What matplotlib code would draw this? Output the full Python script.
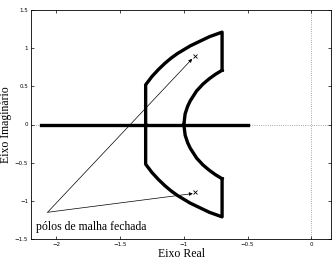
import matplotlib.pyplot as plt

# Region boundary (upper half); lower half is mirrored
outer_x = [-1.30, -1.30, -1.25, -1.20, -1.15, -1.10, -1.05, -1.00, -0.95, -0.90, -0.85, -0.80, -0.75, -0.70, -0.70]
outer_y = [0.00, 0.52, 0.63, 0.72, 0.80, 0.87, 0.93, 0.98, 1.03, 1.07, 1.11, 1.15, 1.18, 1.21, 0.71]
inner_x = [-0.70, -0.75, -0.80, -0.85, -0.90, -0.95, -0.97, -0.99, -1.00]
inner_y = [0.71, 0.66, 0.60, 0.53, 0.44, 0.31, 0.24, 0.14, 0.00]

# Real axis segment of the locus
real_x = [-2.12, -0.50]

# Closed loop poles
pole_re = [-0.91, -0.91]
pole_im = [0.90, -0.89]

label_text = "pólos de malha fechada"
label_xy = (-2.07, -1.15)
arrow_ends = [(-0.935, 0.86), (-0.93, -0.905)]

plt.rcParams['font.family'] = ['Liberation Serif', 'DejaVu Serif']

fig = plt.figure(figsize=(3.34, 2.75), dpi=100)
ax = fig.add_axes([31 / 334, 1 - 239 / 275, 300 / 334, 229 / 275])

# dotted axes lines
ax.axhline(0, color="0.55", ls=":", lw=0.6, zorder=0)
ax.axvline(0, color="0.55", ls=":", lw=0.6, zorder=0)

lw = 2.4
ax.plot(outer_x, outer_y, color="black", lw=lw)
ax.plot(outer_x, [-y for y in outer_y], color="black", lw=lw)
ax.plot(inner_x, inner_y, color="black", lw=lw)
ax.plot(inner_x, [-y for y in inner_y], color="black", lw=lw)
ax.plot(real_x, [0, 0], color="black", lw=lw)

ax.plot(pole_re, pole_im, "x", color="black", ms=2.5, mew=0.6)

for end in arrow_ends:
    ax.annotate("", xy=end, xytext=label_xy,
                arrowprops=dict(arrowstyle="-|>", color="black", lw=0.5,
                                mutation_scale=5, shrinkA=0, shrinkB=0))
ax.text(-2.16, -1.27, label_text, fontsize=8.5, ha="left", va="top")

ax.set_xlim(-2.2, 0.155)
ax.set_ylim(-1.5, 1.5)
ax.set_xticks([-2, -1.5, -1, -0.5, 0])
ax.set_xticklabels(["\u22122", "\u22121.5", "\u22121", "\u22120.5", "0"])
ax.set_yticks([-1.5, -1, -0.5, 0, 0.5, 1, 1.5])
ax.set_yticklabels(["\u22121.5", "\u22121", "\u22120.5", "0", "0.5", "1", "1.5"])
ax.tick_params(direction="in", length=2.5, width=0.5, labelsize=4,
               top=True, right=True, pad=2)
for lbl in ax.get_xticklabels() + ax.get_yticklabels():
    lbl.set_family("DejaVu Sans")
for sp in ax.spines.values():
    sp.set_linewidth(0.6)

ax.set_xlabel("Eixo Real", fontsize=8.5, labelpad=1)
ax.set_ylabel("Eixo Imaginário", fontsize=8.5, labelpad=2)

plt.savefig("out.png", dpi=100)
